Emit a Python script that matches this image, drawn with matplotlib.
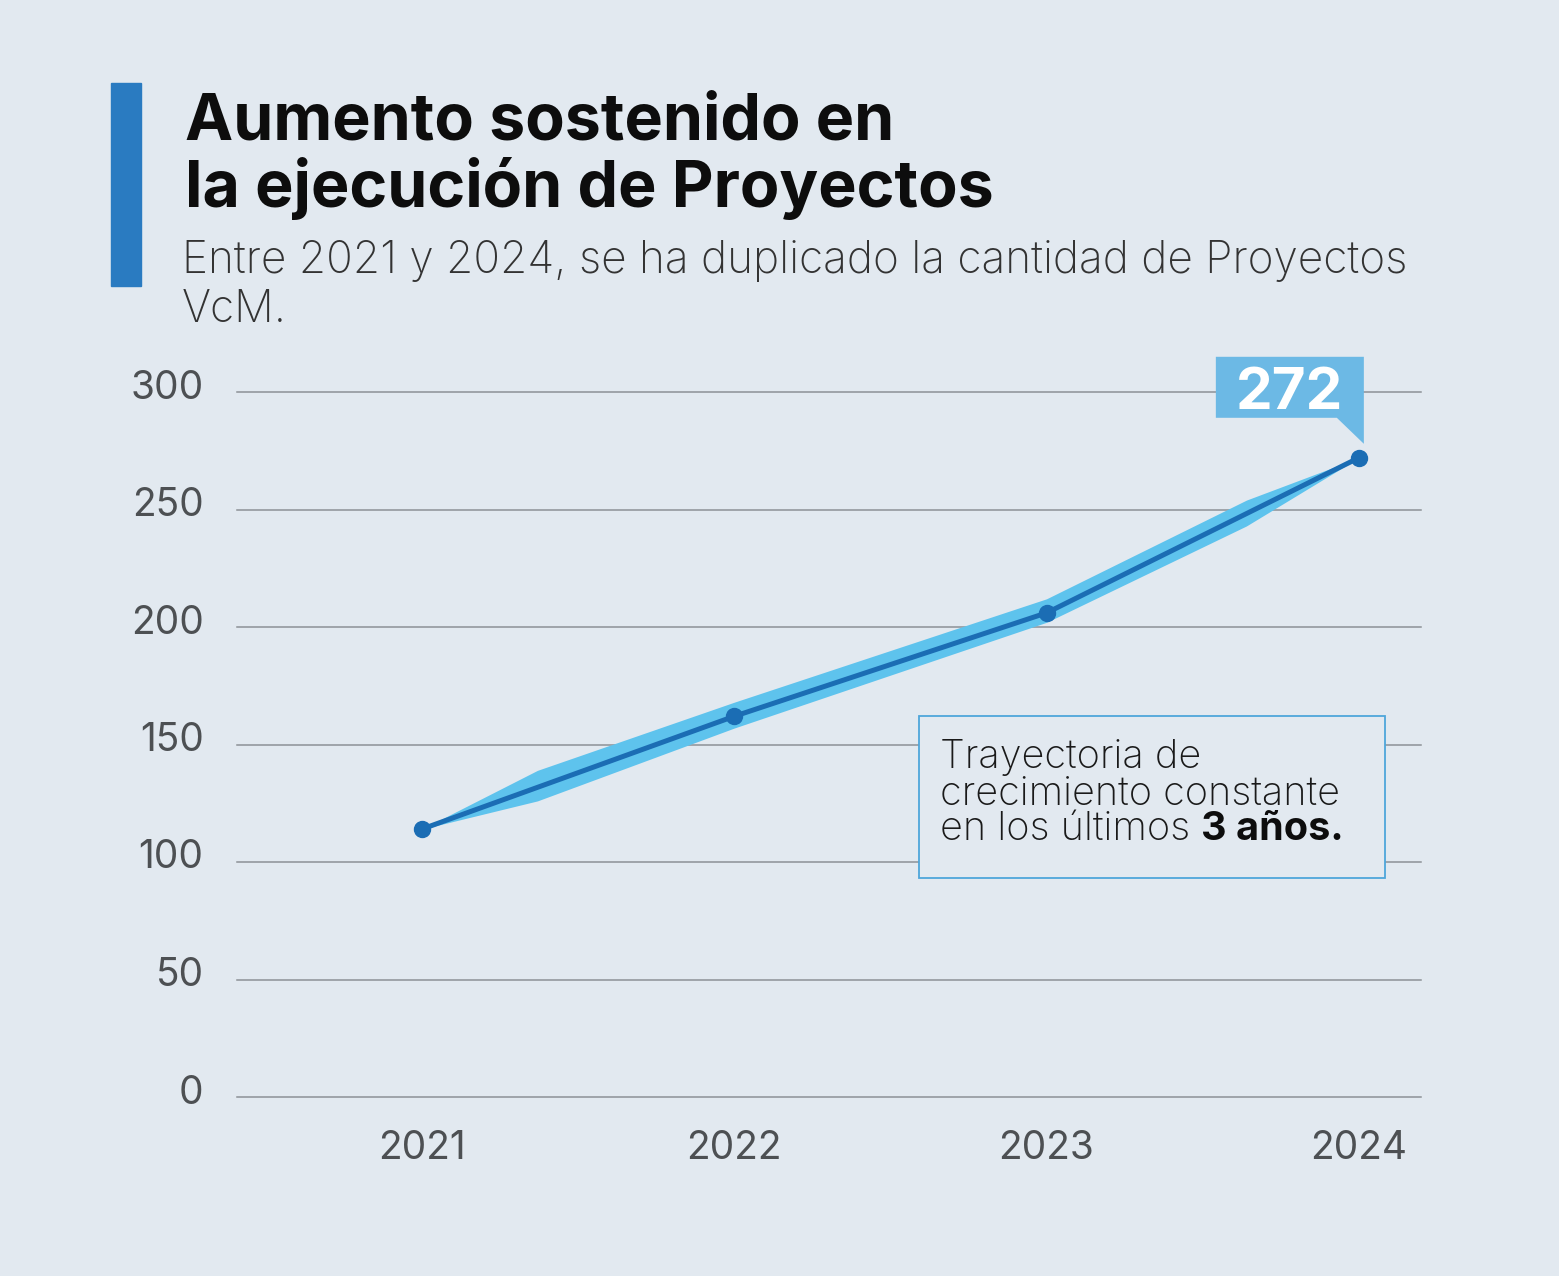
import matplotlib
matplotlib.use("Agg")
import matplotlib.pyplot as plt
import matplotlib.transforms as mtransforms
from matplotlib.patches import Polygon, Rectangle

# datos
anios = [2021, 2022, 2023, 2024]
proyectos = [114, 162, 206, 272]
# franja celeste alrededor de la línea (bordes)
banda_x = [2021, 2021.37, 2022, 2023, 2023.64, 2024]
banda_inf = [114, 126, 157, 202, 243, 272]
banda_sup = [114, 139, 168, 212, 254, 272]
y_ticks = [0, 50, 100, 150, 200, 250, 300]
x_labels = ["2021", "2022", "2023", "2024"]

titulo = ["Aumento sostenido en", "la ejecución de Proyectos"]
subtitulo = ["Entre 2021 y 2024, se ha duplicado la cantidad de Proyectos", "VcM."]
nota = ["Trayectoria de", "crecimiento constante", "en los últimos "]
nota_bold = "3 años."

BG = "#e2e9f0"
AZUL = "#1b6db4"
CELESTE = "#5ec3ed"
plt.rcParams["font.family"] = ["Inter", "DejaVu Sans"]

W, H = 1559, 1276
fig = plt.figure(figsize=(W / 100, H / 100), dpi=100, facecolor=BG)


def fx(px):
    return px / W


def fy(py):
    return 1 - py / H


ax = fig.add_axes([fx(237), fy(1097), (1421 - 237) / W, (1097 - 392) / H])
ax.set_facecolor(BG)
ax.set_xlim(2020.408, 2024.199)
ax.set_ylim(0, 300)
for s in ax.spines.values():
    s.set_visible(False)
ax.set_yticks(y_ticks)
ax.set_xticks(anios)
ax.set_xticklabels(x_labels)
ax.grid(axis="y", color="#8c9196", lw=1.1)
ax.grid(axis="x", visible=False)
for l in ax.get_ygridlines():
    l.set_clip_on(False)
ax.set_axisbelow(True)
ax.tick_params(axis="y", length=0, labelsize=28, labelcolor="#4d5053", pad=24)
ax.tick_params(axis="x", length=0, labelsize=28, labelcolor="#4d5053", pad=24)
subir = mtransforms.ScaledTranslation(0, 0.08, fig.dpi_scale_trans)
for lbl in ax.get_yticklabels():
    lbl.set_transform(lbl.get_transform() + subir)

ax.fill_between(banda_x, banda_inf, banda_sup, color=CELESTE, lw=0, zorder=2)
ax.plot(anios, proyectos, color=AZUL, lw=3.6, marker="o", ms=11.5, zorder=3)

# barra azul y títulos
fig.patches.append(Rectangle((fx(111), fy(286)), fx(30), 203 / H,
                             transform=fig.transFigure, color="#2a7bc1"))
fig.text(fx(185), fy(140), titulo[0], fontsize=46.5, fontweight="bold",
         color="#0d0d0d", va="baseline")
fig.text(fx(185), fy(207), titulo[1], fontsize=46.5, fontweight="bold",
         color="#0d0d0d", va="baseline")
fig.text(fx(182), fy(273), subtitulo[0], fontsize=31.8, fontweight="light",
         color="#333333", va="baseline")
fig.text(fx(182), fy(322), subtitulo[1], fontsize=31.8, fontweight="light",
         color="#333333", va="baseline")

# recuadro de nota
ax.add_patch(Rectangle((fx(919), fy(878)), (1385 - 919) / W, (878 - 716) / H,
                       transform=fig.transFigure, facecolor=BG,
                       edgecolor="#4ea6da", lw=1.3, zorder=4, clip_on=False))
fig.text(fx(940), fy(768), nota[0], fontsize=28.5, fontweight="light",
         color="#1a1a1a", va="baseline", zorder=5)
fig.text(fx(940), fy(805), nota[1], fontsize=28.5, fontweight="light",
         color="#1a1a1a", va="baseline", zorder=5)
t3 = fig.text(fx(940), fy(840), nota[2], fontsize=28.5, fontweight="light",
              color="#1a1a1a", va="baseline", zorder=5)
fig.draw_without_rendering()
ax.annotate(nota_bold, xy=(1, 0), xycoords=t3, fontsize=28.5, fontweight="bold",
            color="#0d0d0d", va="bottom", ha="left", zorder=5,
            annotation_clip=False)

# globo con el último valor
trans = fig.dpi_scale_trans + mtransforms.ScaledTranslation(
    anios[-1], proyectos[-1], ax.transData)
globo = Polygon([(-1.43, 0.40), (-1.43, 1.01), (0.05, 1.01), (0.05, 0.14), (-0.22, 0.40)],
                closed=True, transform=trans, facecolor="#6cb9e5", lw=0,
                clip_on=False, zorder=5)
ax.add_patch(globo)
ax.text(-0.69, 0.49, str(proyectos[-1]), transform=trans, fontsize=42,
        fontweight="bold", color="white", ha="center", va="baseline",
        clip_on=False, zorder=6)

fig.savefig("out.png", dpi=100, facecolor=BG)
